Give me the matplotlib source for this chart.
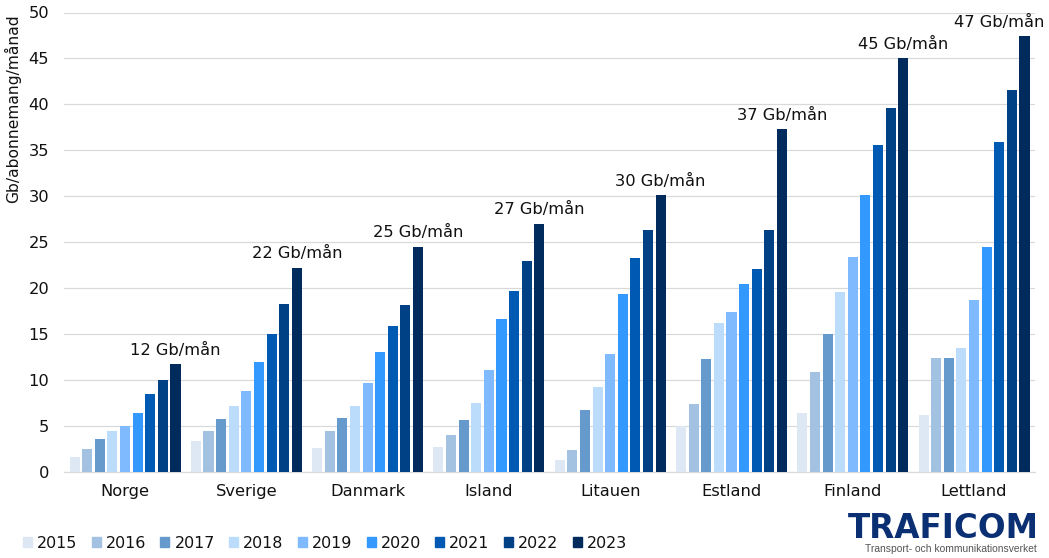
#!/usr/bin/env python3

import matplotlib
matplotlib.use("Agg")
import matplotlib.pyplot as plt
import numpy as np
from matplotlib.patches import Patch

W, H = 1049, 558

countries = ["Norge", "Sverige", "Danmark", "Island", "Litauen", "Estland", "Finland", "Lettland"]
years = ["2015", "2016", "2017", "2018", "2019", "2020", "2021", "2022", "2023"]
y2015 = [1.6, 3.3, 2.6, 2.7, 1.2, 5.0, 6.4, 6.2]
y2016 = [2.4, 4.4, 4.4, 4.0, 2.3, 7.4, 10.8, 12.4]
y2017 = [3.5, 5.7, 5.8, 5.6, 6.7, 12.3, 15.0, 12.4]
y2018 = [4.4, 7.1, 7.1, 7.5, 9.2, 16.2, 19.5, 13.5]
y2019 = [5.0, 8.8, 9.6, 11.1, 12.8, 17.4, 23.4, 18.7]
y2020 = [6.4, 11.9, 13.0, 16.6, 19.3, 20.4, 30.1, 24.5]
y2021 = [8.4, 15.0, 15.8, 19.7, 23.3, 22.1, 35.6, 35.9]
y2022 = [10.0, 18.3, 18.1, 22.9, 26.3, 26.3, 39.6, 41.6]
y2023 = [11.7, 22.2, 24.5, 27.0, 30.1, 37.3, 45.0, 47.4]
labels = ["12 Gb/mån", "22 Gb/mån", "25 Gb/mån", "27 Gb/mån", "30 Gb/mån", "37 Gb/mån", "45 Gb/mån", "47 Gb/mån"]

series = [y2015, y2016, y2017, y2018, y2019, y2020, y2021, y2022, y2023]
colors = ["#dee8f4", "#a3c1e0", "#6699cc", "#bbdcfb", "#7fbaff", "#3399ff", "#0059b3", "#004085", "#002b5c"]

plt.rcParams.update({"font.family": ["DejaVu Sans"], "font.size": 11.7})

fig = plt.figure(figsize=(W / 100, H / 100), dpi=100)
ax = fig.add_axes([64.4 / W, 1 - 471.5 / H, 970.3 / W, 459 / H])

x = np.arange(len(countries))
pitch = 0.104
for i, (vals, color) in enumerate(zip(series, colors)):
    ax.bar(x + (i - 4) * pitch, vals, 0.083, color=color, zorder=3, label=years[i])

# last bar's label follows the bar, Lettland is pushed in so it fits the canvas
for i, (val, text) in enumerate(zip(y2023, labels)):
    xpos = x[i] + 4 * pitch
    if i == len(labels) - 1:
        xpos -= 0.205
    ax.annotate(text, (xpos, val), xytext=(0, 4.5), textcoords="offset points",
                ha="center", va="bottom", color="#111111", fontsize=11.7, zorder=4)

ax.set_xlim(-0.5, len(countries) - 0.5)
ax.set_ylim(0, 50)
ax.set_yticks(range(0, 51, 5))
ax.set_xticks(x)
ax.set_xticklabels(countries)
ax.set_ylabel("Gb/abonnemang/månad", labelpad=5, color="#111111", y=0.79, fontsize=11.2)
ax.tick_params(axis="both", length=0, colors="#111111")
ax.tick_params(axis="x", pad=9)
ax.tick_params(axis="y", pad=11)
ax.grid(axis="y", color="#d9d9d9", linewidth=0.85, zorder=0)
ax.set_axisbelow(True)
for side in ["top", "right", "left"]:
    ax.spines[side].set_visible(False)
ax.spines["bottom"].set_color("#d9d9d9")
ax.spines["bottom"].set_linewidth(0.85)

handles = [Patch(color=c, label=y) for c, y in zip(colors, years)]
fig.legend(handles=handles, ncols=9, frameon=False, loc="center left",
           bbox_to_anchor=(23 / W, 1 - 543 / H), handlelength=0.57, handleheight=0.57,
           handletextpad=0.32, columnspacing=0.9, borderpad=0, borderaxespad=0,
           labelcolor="#111111", fontsize=11.4)

fig.text(943 / W, 1 - 528 / H, "TRAFICOM", color="#0b2f73", fontsize=23.5, weight="bold",
         ha="center", va="center")
fig.text(951 / W, 1 - 549 / H, "Transport- och kommunikationsverket", color="#555555",
         fontsize=7.4, family="Liberation Sans", ha="center", va="center")

fig.savefig("out.png", dpi=100)
